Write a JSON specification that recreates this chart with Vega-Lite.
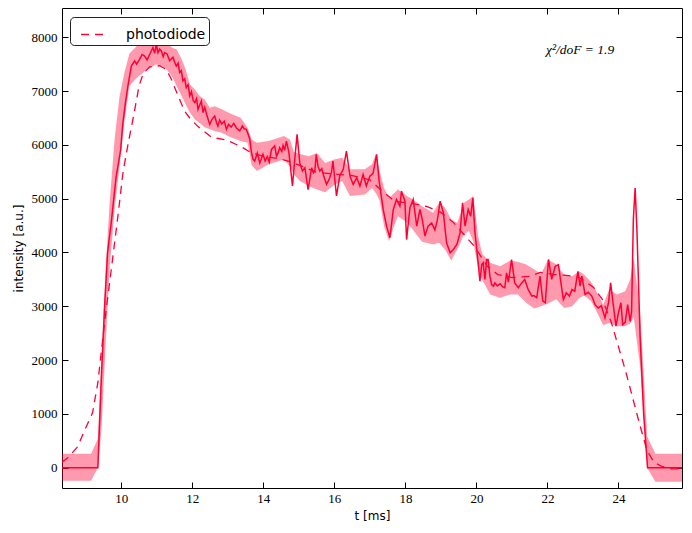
{
  "$schema": "https://vega.github.io/schema/vega-lite/v6.json",
  "width": 620,
  "height": 480,
  "autosize": "none",
  "padding": {"left": 62, "top": 8, "right": 10, "bottom": 45},
  "background": "white",
  "datasets": {
    "band": [
      {"t": 8.33, "lo": -240, "hi": 260}, {"t": 9.15, "lo": -240, "hi": 260}, {"t": 9.34, "lo": 0, "hi": 540},
      {"t": 9.44, "lo": 700, "hi": 2000}, {"t": 9.56, "lo": 2300, "hi": 3700}, {"t": 9.67, "lo": 3700, "hi": 4900},
      {"t": 9.81, "lo": 4800, "hi": 6100}, {"t": 9.95, "lo": 5600, "hi": 6900}, {"t": 10.09, "lo": 6450, "hi": 7350},
      {"t": 10.23, "lo": 7100, "hi": 7700}, {"t": 10.46, "lo": 7260, "hi": 7850}, {"t": 10.66, "lo": 7370, "hi": 7900},
      {"t": 10.80, "lo": 7420, "hi": 7950}, {"t": 10.97, "lo": 7495, "hi": 8025}, {"t": 11.14, "lo": 7465, "hi": 7995},
      {"t": 11.28, "lo": 7400, "hi": 7900}, {"t": 11.42, "lo": 7280, "hi": 7810}, {"t": 11.56, "lo": 7095, "hi": 7775},
      {"t": 11.70, "lo": 6910, "hi": 7590}, {"t": 11.81, "lo": 6755, "hi": 7405}, {"t": 11.93, "lo": 6600, "hi": 7125},
      {"t": 12.07, "lo": 6475, "hi": 7030}, {"t": 12.21, "lo": 6400, "hi": 6910}, {"t": 12.35, "lo": 6330, "hi": 6845},
      {"t": 12.49, "lo": 6290, "hi": 6690}, {"t": 12.63, "lo": 6260, "hi": 6720}, {"t": 12.83, "lo": 6225, "hi": 6660},
      {"t": 13.05, "lo": 6150, "hi": 6590}, {"t": 13.36, "lo": 6070, "hi": 6505}, {"t": 13.56, "lo": 6040, "hi": 6320},
      {"t": 13.67, "lo": 5620, "hi": 6100}, {"t": 13.82, "lo": 5515, "hi": 6040}, {"t": 14.15, "lo": 5640, "hi": 6070},
      {"t": 14.58, "lo": 5730, "hi": 6165}, {"t": 14.75, "lo": 5600, "hi": 6100}, {"t": 14.86, "lo": 5450, "hi": 5870},
      {"t": 15.03, "lo": 5330, "hi": 5830}, {"t": 15.28, "lo": 5235, "hi": 5790}, {"t": 15.51, "lo": 5170, "hi": 5850},
      {"t": 15.74, "lo": 5120, "hi": 5665}, {"t": 15.99, "lo": 5250, "hi": 5730}, {"t": 16.22, "lo": 5330, "hi": 5760},
      {"t": 16.44, "lo": 5050, "hi": 5545}, {"t": 16.86, "lo": 5080, "hi": 5545}, {"t": 17.06, "lo": 5200, "hi": 5640},
      {"t": 17.17, "lo": 5100, "hi": 5825}, {"t": 17.28, "lo": 4955, "hi": 5500}, {"t": 17.40, "lo": 4490, "hi": 5200},
      {"t": 17.54, "lo": 4210, "hi": 5015}, {"t": 17.68, "lo": 4490, "hi": 5100}, {"t": 17.79, "lo": 4675, "hi": 5170},
      {"t": 18.04, "lo": 4560, "hi": 5050}, {"t": 18.18, "lo": 4450, "hi": 5000}, {"t": 18.47, "lo": 4200, "hi": 4860},
      {"t": 18.78, "lo": 4150, "hi": 4740}, {"t": 18.95, "lo": 4180, "hi": 4925}, {"t": 19.12, "lo": 4050, "hi": 4830},
      {"t": 19.29, "lo": 3850, "hi": 4615}, {"t": 19.46, "lo": 4050, "hi": 4550}, {"t": 19.65, "lo": 4335, "hi": 4925},
      {"t": 19.79, "lo": 4400, "hi": 4985}, {"t": 19.91, "lo": 4210, "hi": 5050}, {"t": 20.05, "lo": 3700, "hi": 4300},
      {"t": 20.16, "lo": 3500, "hi": 3980}, {"t": 20.39, "lo": 3220, "hi": 3810}, {"t": 20.67, "lo": 3160, "hi": 3745},
      {"t": 20.95, "lo": 3220, "hi": 3850}, {"t": 21.17, "lo": 3220, "hi": 3830}, {"t": 21.40, "lo": 3065, "hi": 3775},
      {"t": 21.63, "lo": 2960, "hi": 3685}, {"t": 21.82, "lo": 3000, "hi": 3600}, {"t": 22.02, "lo": 3050, "hi": 3870},
      {"t": 22.25, "lo": 3130, "hi": 3775}, {"t": 22.47, "lo": 2970, "hi": 3590}, {"t": 22.70, "lo": 3000, "hi": 3560},
      {"t": 22.89, "lo": 3150, "hi": 3650}, {"t": 23.03, "lo": 3200, "hi": 3590}, {"t": 23.23, "lo": 3100, "hi": 3450},
      {"t": 23.43, "lo": 2845, "hi": 3220}, {"t": 23.57, "lo": 2650, "hi": 3030}, {"t": 23.74, "lo": 2690, "hi": 3310},
      {"t": 23.96, "lo": 2630, "hi": 3220}, {"t": 24.19, "lo": 2630, "hi": 3280}, {"t": 24.33, "lo": 2680, "hi": 3500},
      {"t": 24.43, "lo": 2800, "hi": 3900}, {"t": 24.61, "lo": 1900, "hi": 2900}, {"t": 24.81, "lo": 0, "hi": 580},
      {"t": 25.04, "lo": -260, "hi": 260}, {"t": 25.79, "lo": -260, "hi": 260}
    ],
    "meas": [
      {"t": 8.33, "v": 0}, {"t": 9.34, "v": 0}, {"t": 9.436, "v": 1640}, {"t": 9.53, "v": 3000}, {"t": 9.614, "v": 4000},
      {"t": 9.727, "v": 4615}, {"t": 9.853, "v": 5400}, {"t": 9.98, "v": 5900}, {"t": 10.045, "v": 6410}, {"t": 10.12, "v": 6800},
      {"t": 10.186, "v": 7095}, {"t": 10.282, "v": 7465}, {"t": 10.375, "v": 7560}, {"t": 10.43, "v": 7500}, {"t": 10.516, "v": 7590},
      {"t": 10.586, "v": 7680}, {"t": 10.657, "v": 7650}, {"t": 10.727, "v": 7580}, {"t": 10.798, "v": 7680}, {"t": 10.891, "v": 7810},
      {"t": 10.94, "v": 7700}, {"t": 10.986, "v": 7870}, {"t": 11.032, "v": 7715}, {"t": 11.08, "v": 7780}, {"t": 11.127, "v": 7745},
      {"t": 11.18, "v": 7640}, {"t": 11.22, "v": 7715}, {"t": 11.29, "v": 7690}, {"t": 11.36, "v": 7565}, {"t": 11.454, "v": 7630},
      {"t": 11.50, "v": 7540}, {"t": 11.55, "v": 7465}, {"t": 11.60, "v": 7520}, {"t": 11.644, "v": 7345}, {"t": 11.69, "v": 7380},
      {"t": 11.737, "v": 7190}, {"t": 11.785, "v": 7230}, {"t": 11.83, "v": 7065}, {"t": 11.88, "v": 7120}, {"t": 11.927, "v": 6910},
      {"t": 11.975, "v": 6990}, {"t": 12.025, "v": 6820}, {"t": 12.07, "v": 6785}, {"t": 12.12, "v": 6860}, {"t": 12.16, "v": 6660},
      {"t": 12.255, "v": 6815}, {"t": 12.30, "v": 6600}, {"t": 12.35, "v": 6700}, {"t": 12.405, "v": 6560}, {"t": 12.49, "v": 6380},
      {"t": 12.56, "v": 6480}, {"t": 12.63, "v": 6535}, {"t": 12.68, "v": 6420}, {"t": 12.72, "v": 6350}, {"t": 12.77, "v": 6460},
      {"t": 12.83, "v": 6390}, {"t": 12.90, "v": 6440}, {"t": 12.96, "v": 6290}, {"t": 13.02, "v": 6380}, {"t": 13.095, "v": 6330},
      {"t": 13.165, "v": 6400}, {"t": 13.25, "v": 6310}, {"t": 13.335, "v": 6260}, {"t": 13.41, "v": 6350}, {"t": 13.46, "v": 6300},
      {"t": 13.52, "v": 6290}, {"t": 13.57, "v": 6200}, {"t": 13.62, "v": 6100}, {"t": 13.66, "v": 5885}, {"t": 13.71, "v": 5730},
      {"t": 13.758, "v": 5700}, {"t": 13.83, "v": 5850}, {"t": 13.90, "v": 5665}, {"t": 13.99, "v": 5825}, {"t": 14.05, "v": 5700},
      {"t": 14.11, "v": 5780}, {"t": 14.166, "v": 5680}, {"t": 14.23, "v": 5915}, {"t": 14.32, "v": 5980}, {"t": 14.37, "v": 5790},
      {"t": 14.42, "v": 5860}, {"t": 14.46, "v": 5950}, {"t": 14.52, "v": 5880}, {"t": 14.556, "v": 5990}, {"t": 14.60, "v": 5900},
      {"t": 14.65, "v": 6070}, {"t": 14.72, "v": 5855}, {"t": 14.82, "v": 5235}, {"t": 14.885, "v": 5730}, {"t": 14.95, "v": 6195},
      {"t": 15.026, "v": 5665}, {"t": 15.10, "v": 5515}, {"t": 15.17, "v": 5575}, {"t": 15.26, "v": 5170}, {"t": 15.36, "v": 5575},
      {"t": 15.41, "v": 5480}, {"t": 15.45, "v": 5520}, {"t": 15.49, "v": 5825}, {"t": 15.54, "v": 5600}, {"t": 15.59, "v": 5515},
      {"t": 15.645, "v": 5560}, {"t": 15.70, "v": 5420}, {"t": 15.78, "v": 5265}, {"t": 15.83, "v": 5330}, {"t": 15.87, "v": 5390},
      {"t": 15.92, "v": 5500}, {"t": 15.96, "v": 5700}, {"t": 16.06, "v": 5050}, {"t": 16.15, "v": 5420}, {"t": 16.25, "v": 5545},
      {"t": 16.34, "v": 5885}, {"t": 16.44, "v": 5420}, {"t": 16.53, "v": 5265}, {"t": 16.63, "v": 5390}, {"t": 16.72, "v": 5235},
      {"t": 16.81, "v": 5450}, {"t": 16.90, "v": 5235}, {"t": 17.00, "v": 5420}, {"t": 17.09, "v": 5470}, {"t": 17.19, "v": 5825},
      {"t": 17.26, "v": 5330}, {"t": 17.375, "v": 4800}, {"t": 17.47, "v": 4490}, {"t": 17.565, "v": 4275}, {"t": 17.66, "v": 4800},
      {"t": 17.75, "v": 4985}, {"t": 17.845, "v": 4860}, {"t": 17.89, "v": 5140}, {"t": 17.986, "v": 4955}, {"t": 18.034, "v": 4240},
      {"t": 18.127, "v": 4830}, {"t": 18.22, "v": 4985}, {"t": 18.32, "v": 4490}, {"t": 18.41, "v": 4800}, {"t": 18.48, "v": 4600},
      {"t": 18.55, "v": 4305}, {"t": 18.64, "v": 4490}, {"t": 18.74, "v": 4550}, {"t": 18.83, "v": 4420}, {"t": 18.90, "v": 4600},
      {"t": 18.98, "v": 4955}, {"t": 19.07, "v": 4740}, {"t": 19.16, "v": 4180}, {"t": 19.26, "v": 3995}, {"t": 19.35, "v": 4055},
      {"t": 19.45, "v": 4150}, {"t": 19.54, "v": 4365}, {"t": 19.61, "v": 4925}, {"t": 19.68, "v": 4490}, {"t": 19.77, "v": 4800},
      {"t": 19.84, "v": 4675}, {"t": 19.90, "v": 5015}, {"t": 19.96, "v": 4365}, {"t": 20.05, "v": 3810}, {"t": 20.10, "v": 3465},
      {"t": 20.15, "v": 3775}, {"t": 20.19, "v": 3810}, {"t": 20.24, "v": 3500}, {"t": 20.29, "v": 3870}, {"t": 20.33, "v": 3870},
      {"t": 20.38, "v": 3560}, {"t": 20.43, "v": 3405}, {"t": 20.48, "v": 3375}, {"t": 20.52, "v": 3435}, {"t": 20.59, "v": 3380},
      {"t": 20.67, "v": 3420}, {"t": 20.74, "v": 3360}, {"t": 20.80, "v": 3345}, {"t": 20.85, "v": 3620}, {"t": 20.90, "v": 3450},
      {"t": 20.99, "v": 3870}, {"t": 21.08, "v": 3435}, {"t": 21.18, "v": 3345}, {"t": 21.27, "v": 3430}, {"t": 21.36, "v": 3500},
      {"t": 21.46, "v": 3310}, {"t": 21.56, "v": 3190}, {"t": 21.62, "v": 3200}, {"t": 21.70, "v": 3160}, {"t": 21.79, "v": 3560},
      {"t": 21.87, "v": 3095}, {"t": 21.94, "v": 3065}, {"t": 22.03, "v": 3870}, {"t": 22.12, "v": 3500}, {"t": 22.22, "v": 3745},
      {"t": 22.31, "v": 3775}, {"t": 22.38, "v": 3435}, {"t": 22.45, "v": 3125}, {"t": 22.53, "v": 3250}, {"t": 22.62, "v": 3190},
      {"t": 22.69, "v": 3310}, {"t": 22.77, "v": 3280}, {"t": 22.86, "v": 3650}, {"t": 22.92, "v": 3375}, {"t": 22.97, "v": 3560},
      {"t": 23.06, "v": 3220}, {"t": 23.15, "v": 3260}, {"t": 23.25, "v": 3190}, {"t": 23.34, "v": 3030}, {"t": 23.43, "v": 2970},
      {"t": 23.52, "v": 3010}, {"t": 23.62, "v": 2785}, {"t": 23.72, "v": 3065}, {"t": 23.78, "v": 3435}, {"t": 23.86, "v": 3000},
      {"t": 23.93, "v": 2630}, {"t": 24.00, "v": 2880}, {"t": 24.07, "v": 3065}, {"t": 24.12, "v": 2660}, {"t": 24.19, "v": 2700},
      {"t": 24.26, "v": 3030}, {"t": 24.33, "v": 2720}, {"t": 24.37, "v": 2900}, {"t": 24.42, "v": 4615}, {"t": 24.47, "v": 5200},
      {"t": 24.52, "v": 4430}, {"t": 24.61, "v": 2440}, {"t": 24.71, "v": 1000}, {"t": 24.82, "v": 0}, {"t": 25.79, "v": 0}
    ],
    "pd": [
      {"t": 8.33, "v": 100, "series": "photodiode"}, {"t": 8.5, "v": 190, "series": "photodiode"},
      {"t": 8.77, "v": 390, "series": "photodiode"}, {"t": 8.97, "v": 700, "series": "photodiode"},
      {"t": 9.19, "v": 1020, "series": "photodiode"}, {"t": 9.34, "v": 1580, "series": "photodiode"},
      {"t": 9.53, "v": 2700, "series": "photodiode"}, {"t": 9.73, "v": 3750, "series": "photodiode"},
      {"t": 9.90, "v": 4650, "series": "photodiode"}, {"t": 10.05, "v": 5500, "series": "photodiode"},
      {"t": 10.20, "v": 6050, "series": "photodiode"}, {"t": 10.35, "v": 6550, "series": "photodiode"},
      {"t": 10.50, "v": 7100, "series": "photodiode"}, {"t": 10.62, "v": 7330, "series": "photodiode"},
      {"t": 10.80, "v": 7450, "series": "photodiode"}, {"t": 11.08, "v": 7470, "series": "photodiode"},
      {"t": 11.27, "v": 7400, "series": "photodiode"}, {"t": 11.41, "v": 7220, "series": "photodiode"},
      {"t": 11.60, "v": 6910, "series": "photodiode"}, {"t": 11.78, "v": 6630, "series": "photodiode"},
      {"t": 11.95, "v": 6480, "series": "photodiode"}, {"t": 12.16, "v": 6340, "series": "photodiode"},
      {"t": 12.54, "v": 6140, "series": "photodiode"}, {"t": 12.96, "v": 6090, "series": "photodiode"},
      {"t": 13.38, "v": 5965, "series": "photodiode"}, {"t": 13.67, "v": 5850, "series": "photodiode"},
      {"t": 14.0, "v": 5790, "series": "photodiode"}, {"t": 14.46, "v": 5740, "series": "photodiode"},
      {"t": 14.75, "v": 5690, "series": "photodiode"}, {"t": 15.1, "v": 5600, "series": "photodiode"},
      {"t": 15.5, "v": 5490, "series": "photodiode"}, {"t": 16.0, "v": 5460, "series": "photodiode"},
      {"t": 16.5, "v": 5430, "series": "photodiode"}, {"t": 17.0, "v": 5350, "series": "photodiode"},
      {"t": 17.3, "v": 5170, "series": "photodiode"}, {"t": 17.7, "v": 4950, "series": "photodiode"},
      {"t": 18.2, "v": 4910, "series": "photodiode"}, {"t": 18.6, "v": 4855, "series": "photodiode"},
      {"t": 19.0, "v": 4745, "series": "photodiode"}, {"t": 19.35, "v": 4560, "series": "photodiode"},
      {"t": 19.65, "v": 4335, "series": "photodiode"}, {"t": 19.95, "v": 4110, "series": "photodiode"},
      {"t": 20.3, "v": 3750, "series": "photodiode"}, {"t": 20.6, "v": 3590, "series": "photodiode"},
      {"t": 21.0, "v": 3535, "series": "photodiode"}, {"t": 21.5, "v": 3555, "series": "photodiode"},
      {"t": 21.8, "v": 3630, "series": "photodiode"}, {"t": 22.2, "v": 3590, "series": "photodiode"},
      {"t": 22.6, "v": 3570, "series": "photodiode"}, {"t": 22.9, "v": 3535, "series": "photodiode"},
      {"t": 23.3, "v": 3350, "series": "photodiode"}, {"t": 23.55, "v": 3125, "series": "photodiode"},
      {"t": 23.8, "v": 2700, "series": "photodiode"}, {"t": 24.0, "v": 2250, "series": "photodiode"},
      {"t": 24.2, "v": 1800, "series": "photodiode"}, {"t": 24.4, "v": 1300, "series": "photodiode"},
      {"t": 24.6, "v": 800, "series": "photodiode"}, {"t": 24.8, "v": 330, "series": "photodiode"},
      {"t": 25.0, "v": 100, "series": "photodiode"}, {"t": 25.2, "v": 30, "series": "photodiode"},
      {"t": 25.5, "v": -20, "series": "photodiode"}, {"t": 25.79, "v": -20, "series": "photodiode"}
    ],
    "note": [{"t": 22.92, "v": 7770, "label": "χ²/doF = 1.9"}]
  },
  "layer": [
    {
      "data": {"name": "band"},
      "mark": {"type": "area", "color": "#ff0033", "opacity": 0.4, "clip": true},
      "encoding": {
        "x": {"field": "t", "type": "quantitative", "scale": {"domain": [8.33, 25.79], "nice": false, "zero": false},
              "axis": {"orient": "bottom", "values": [10, 12, 14, 16, 18, 20, 22, 24], "format": "d", "title": "t [ms]", "labelPadding": 10, "titlePadding": 5}},
        "y": {"field": "lo", "type": "quantitative", "scale": {"domain": [-377, 8544], "nice": false, "zero": false},
              "axis": {"orient": "left", "values": [0, 1000, 2000, 3000, 4000, 5000, 6000, 7000, 8000], "format": "d", "title": "intensity [a.u.]", "labelPadding": 11, "titlePadding": 6}},
        "y2": {"field": "hi"}
      }
    },
    {
      "data": {"name": "meas"},
      "mark": {"type": "line", "color": "#ff0033", "strokeWidth": 1.5, "clip": true},
      "encoding": {
        "x": {"field": "t", "type": "quantitative", "scale": {"domain": [8.33, 25.79], "nice": false, "zero": false},
              "axis": {"orient": "top", "values": [10, 12, 14, 16, 18, 20, 22, 24], "labels": false, "title": null}},
        "y": {"field": "v", "type": "quantitative", "scale": {"domain": [-377, 8544], "nice": false, "zero": false},
              "axis": {"orient": "right", "values": [0, 1000, 2000, 3000, 4000, 5000, 6000, 7000, 8000], "labels": false, "title": null}}
      }
    },
    {
      "data": {"name": "pd"},
      "mark": {"type": "line", "strokeWidth": 1.3, "strokeDash": [8, 6], "clip": true},
      "encoding": {
        "x": {"field": "t", "type": "quantitative", "axis": null},
        "y": {"field": "v", "type": "quantitative", "axis": null},
        "color": {"field": "series", "type": "nominal",
          "scale": {"domain": ["photodiode"], "range": ["#ff0033"]},
          "legend": {"title": null, "orient": "none", "legendX": 8, "legendY": 9, "symbolType": "stroke", "symbolSize": 729,
            "symbolStrokeWidth": 1.3, "symbolDash": [8, 6], "labelFont": "DejaVu Sans", "labelFontSize": 14, "labelColor": "black",
            "labelExpr": "datum.label + '\u00a0'",
            "fillColor": "white", "strokeColor": "#222222", "padding": 3, "cornerRadius": 4, "symbolOffset": 7, "labelOffset": 17}}
      }
    },
    {
      "data": {"name": "note"},
      "mark": {"type": "text", "font": "Liberation Serif", "fontStyle": "italic", "fontSize": 13.5, "color": "black", "align": "center", "baseline": "middle"},
      "encoding": {
        "x": {"field": "t", "type": "quantitative", "axis": null},
        "y": {"field": "v", "type": "quantitative", "axis": null},
        "text": {"field": "label"}
      }
    }
  ],
  "resolve": {"axis": {"x": "independent", "y": "independent"}},
  "config": {
    "view": {"stroke": "black", "strokeWidth": 1},
    "axis": {
      "domain": false, "grid": false, "ticks": true, "tickSize": -6, "tickColor": "black", "tickWidth": 1,
      "labelFont": "Liberation Serif", "labelFontSize": 13, "labelColor": "black",
      "titleFont": "DejaVu Sans", "titleFontSize": 12, "titleFontWeight": "normal", "titleColor": "black"
    }
  }
}
